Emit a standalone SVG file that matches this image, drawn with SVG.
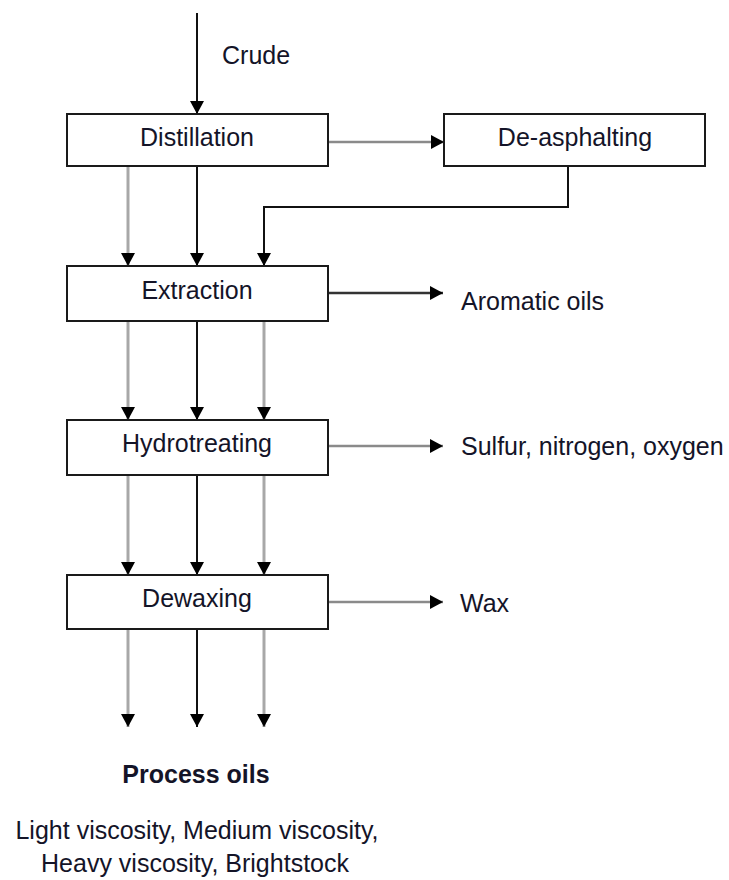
<svg xmlns="http://www.w3.org/2000/svg" width="729" height="880" viewBox="0 0 729 880">
  <style>
    .box { fill: #ffffff; stroke: #1a1a1a; stroke-width: 2; }
    .lbl { font-family: "Liberation Sans", Arial, sans-serif; font-size: 25px; fill: #141428; }
    .mid { text-anchor: middle; }
    .bold { font-weight: bold; }
    .blk { fill: none; stroke: #111111; stroke-width: 2; }
    .gry { fill: none; stroke: #a8a8a8; stroke-width: 3; }
    .hgry { fill: none; stroke: #8a8a8a; stroke-width: 2.5; }
    .hdk { fill: none; stroke: #333333; stroke-width: 2.5; }
  </style>
  <defs>
    <marker id="ah" viewBox="0 0 13 14" refX="13" refY="7" markerWidth="13" markerHeight="14" markerUnits="userSpaceOnUse" orient="auto">
      <path d="M0,0 L13,7 L0,14 Z" fill="#000000"/>
    </marker>
  </defs>

  <rect width="729" height="880" fill="#ffffff"/>

  <g id="connectors">
    <!-- crude feed -->
    <line class="blk" x1="197" y1="13" x2="197" y2="114" marker-end="url(#ah)"/>
    <text class="lbl" x="222" y="64">Crude</text>

    <!-- distillation to de-asphalting -->
    <line class="hgry" x1="328" y1="142" x2="444" y2="142" marker-end="url(#ah)"/>
    <!-- de-asphalting back to extraction -->
    <polyline class="blk" points="568,166 568,207 264,207 264,266" marker-end="url(#ah)"/>

    <!-- distillation to extraction -->
    <line class="gry" x1="128" y1="166" x2="128" y2="266" marker-end="url(#ah)"/>
    <line class="blk" x1="197" y1="166" x2="197" y2="266" marker-end="url(#ah)"/>

    <!-- extraction to hydrotreating -->
    <line class="gry" x1="128" y1="321" x2="128" y2="420" marker-end="url(#ah)"/>
    <line class="blk" x1="197" y1="321" x2="197" y2="420" marker-end="url(#ah)"/>
    <line class="gry" x1="264" y1="321" x2="264" y2="420" marker-end="url(#ah)"/>

    <!-- hydrotreating to dewaxing -->
    <line class="gry" x1="128" y1="475" x2="128" y2="575" marker-end="url(#ah)"/>
    <line class="blk" x1="197" y1="475" x2="197" y2="575" marker-end="url(#ah)"/>
    <line class="gry" x1="264" y1="475" x2="264" y2="575" marker-end="url(#ah)"/>

    <!-- dewaxing products -->
    <line class="gry" x1="128" y1="629" x2="128" y2="727" marker-end="url(#ah)"/>
    <line class="blk" x1="197" y1="629" x2="197" y2="727" marker-end="url(#ah)"/>
    <line class="gry" x1="264" y1="629" x2="264" y2="727" marker-end="url(#ah)"/>

    <!-- side streams -->
    <line class="hdk" x1="328" y1="293" x2="443" y2="293" marker-end="url(#ah)"/>
    <line class="hgry" x1="328" y1="446" x2="443" y2="446" marker-end="url(#ah)"/>
    <line class="hgry" x1="328" y1="602" x2="443" y2="602" marker-end="url(#ah)"/>
  </g>

  <g id="distillation">
    <rect class="box" x="67" y="114" width="261" height="52"/>
    <text class="lbl mid" x="197" y="146">Distillation</text>
  </g>

  <g id="de-asphalting">
    <rect class="box" x="444" y="114" width="261" height="52"/>
    <text class="lbl mid" x="575" y="146">De-asphalting</text>
  </g>

  <g id="extraction">
    <rect class="box" x="67" y="266" width="261" height="55"/>
    <text class="lbl mid" x="197" y="299">Extraction</text>
  </g>

  <g id="hydrotreating">
    <rect class="box" x="67" y="420" width="261" height="55"/>
    <text class="lbl mid" x="197" y="452">Hydrotreating</text>
  </g>

  <g id="dewaxing">
    <rect class="box" x="67" y="575" width="261" height="54"/>
    <text class="lbl mid" x="197" y="607">Dewaxing</text>
  </g>

  <g id="aromatic-oils">
    <text class="lbl" x="461" y="310">Aromatic oils</text>
  </g>

  <g id="sulfur-nitrogen-oxygen">
    <text class="lbl" x="461" y="455">Sulfur, nitrogen, oxygen</text>
  </g>

  <g id="wax">
    <text class="lbl" x="460" y="612">Wax</text>
  </g>

  <g id="process-oils">
    <text class="lbl mid bold" x="196" y="783">Process oils</text>
    <text class="lbl mid" x="197" y="839">Light viscosity, Medium viscosity,</text>
    <text class="lbl mid" x="195" y="872">Heavy viscosity, Brightstock</text>
  </g>
</svg>
